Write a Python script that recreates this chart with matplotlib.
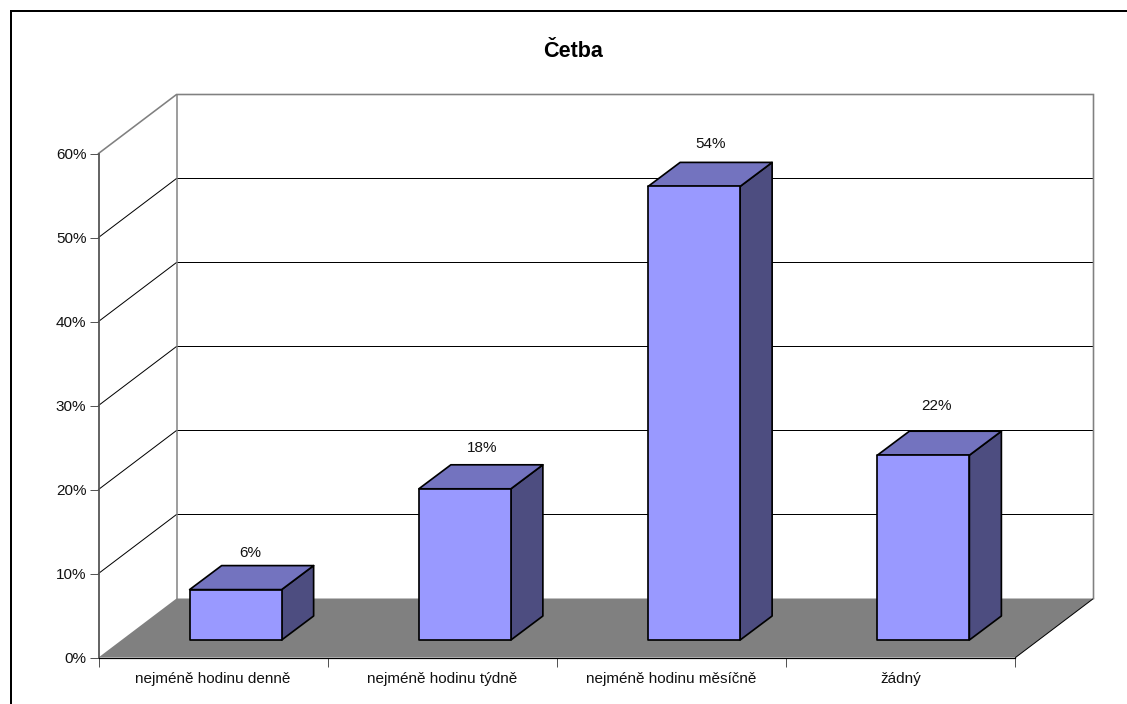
import matplotlib
matplotlib.use("Agg")
import matplotlib.pyplot as plt
from matplotlib.lines import Line2D
from matplotlib.patches import Polygon

plt.rcParams['font.family'] = ['Liberation Sans', 'DejaVu Sans']

# Chart data
categories = ["nejméně hodinu denně", "nejméně hodinu týdně",
              "nejméně hodinu měsíčně", "žádný"]
values = [6, 18, 54, 22]
y_ticks = [0, 10, 20, 30, 40, 50, 60]
title = "Četba"
label_lift_px = [13, 17, 18, 25]
label_shift_px = [-1, 1, 0, -3]

W, H = 1127, 704
PX = 1 / 100 * 72  # points per pixel at 100 dpi
FONT = 11

# Front plane of the plot box, in pixels
left, right, bottom, top = 98.5, 1015.5, 657.5, 153.5

fig = plt.figure(figsize=(W / 100, H / 100), dpi=100, facecolor="white")
ax = fig.add_axes([left / W, 1 - bottom / H, (right - left) / W, (bottom - top) / H])
ax.set_xlim(0, len(categories))
ax.set_ylim(0, 60)
ax.patch.set_alpha(0)

ux = (right - left) / len(categories)   # pixels per category
uy = (bottom - top) / 60                # pixels per percent


def px(dx):
    return dx / ux


def py(dy):
    return dy / uy


# Depth of the box and of the bars
box_dx, box_dy = px(78), py(59)
bar_dx, bar_dy = px(32), py(24)
bar_shift, bar_lift = px(22.5), py(17.5)
bar_w = px(92)
n = len(categories)

# Floor
ax.add_patch(Polygon([(0, 0), (n, 0), (n + box_dx, box_dy), (box_dx, box_dy)],
                     closed=True, fc="#808080", ec="none", zorder=1, clip_on=False))
ax.plot([n, n + box_dx], [0, box_dy], color="black", lw=1 * PX, zorder=2, clip_on=False)

# Gridlines run along the side wall and across the back wall
for t in y_ticks[1:-1]:
    ax.plot([0, box_dx, n + box_dx], [t, t + box_dy, t + box_dy],
            color="black", lw=1 * PX, zorder=2, clip_on=False)

# Outline of the walls
ax.plot([0, box_dx, n + box_dx, n + box_dx], [60, 60 + box_dy, 60 + box_dy, box_dy],
        color="#808080", lw=1.6 * PX, zorder=2, clip_on=False, solid_joinstyle="miter")
ax.plot([box_dx, box_dx], [box_dy, 60 + box_dy], color="#808080", lw=1.5 * PX,
        zorder=2, clip_on=False)

# Bars: front, top and side faces
edge = dict(ec="black", lw=1.7 * PX, joinstyle="round", clip_on=False, zorder=3)
for i, v in enumerate(values):
    x0 = i + 0.5 - bar_w / 2 + bar_shift
    x1 = x0 + bar_w
    y0 = bar_lift
    y1 = bar_lift + v
    ax.add_patch(Polygon([(x1, y0), (x1 + bar_dx, y0 + bar_dy),
                          (x1 + bar_dx, y1 + bar_dy), (x1, y1)], fc="#4D4D80", **edge))
    ax.add_patch(Polygon([(x0, y1), (x1, y1), (x1 + bar_dx, y1 + bar_dy),
                          (x0 + bar_dx, y1 + bar_dy)], fc="#7373BF", **edge))
    ax.add_patch(Polygon([(x0, y0), (x1, y0), (x1, y1), (x0, y1)], fc="#9999FF", **edge))
    ax.text((x0 + x1 + bar_dx) / 2 + px(label_shift_px[i]),
            y1 + bar_dy + py(label_lift_px[i]), f"{v}%",
            ha="center", va="center", fontsize=FONT, color="#111111", zorder=4)

# Axes and ticks
for s in ("top", "right"):
    ax.spines[s].set_visible(False)
ax.spines["left"].set_color("#555555")
ax.spines["left"].set_linewidth(1.8 * PX)
ax.spines["left"].set_zorder(5)
ax.spines["bottom"].set_color("black")
ax.spines["bottom"].set_linewidth(1.2 * PX)
ax.spines["bottom"].set_zorder(5)

ax.set_yticks(y_ticks)
ax.set_yticklabels([f"{t}%" for t in y_ticks], color="#111111")
ax.tick_params(axis="y", length=9 * PX, width=1 * PX, color="#555555", pad=2.2,
               labelsize=FONT)
ax.set_xticks(range(n + 1))
ax.set_xticklabels([])
ax.tick_params(axis="x", which="major", length=9 * PX, width=1 * PX, color="#555555")
ax.set_xticks([i + 0.5 for i in range(n)], minor=True)
ax.set_xticklabels(categories, minor=True, color="#111111")
ax.tick_params(axis="x", which="minor", length=0, pad=10.5, labelsize=FONT)

# Chart title
fig.text(573.5 / W, 1 - 57 / H, title, ha="center", va="baseline",
         fontsize=15.5, fontweight="bold", color="black")

# Outer frame along the left and top edges
fig.add_artist(Line2D([11 / W, 11 / W, 1], [0, 1 - 11 / H, 1 - 11 / H],
                      color="black", lw=2 * PX, solid_joinstyle="miter"))

fig.savefig("out.png", dpi=100)
